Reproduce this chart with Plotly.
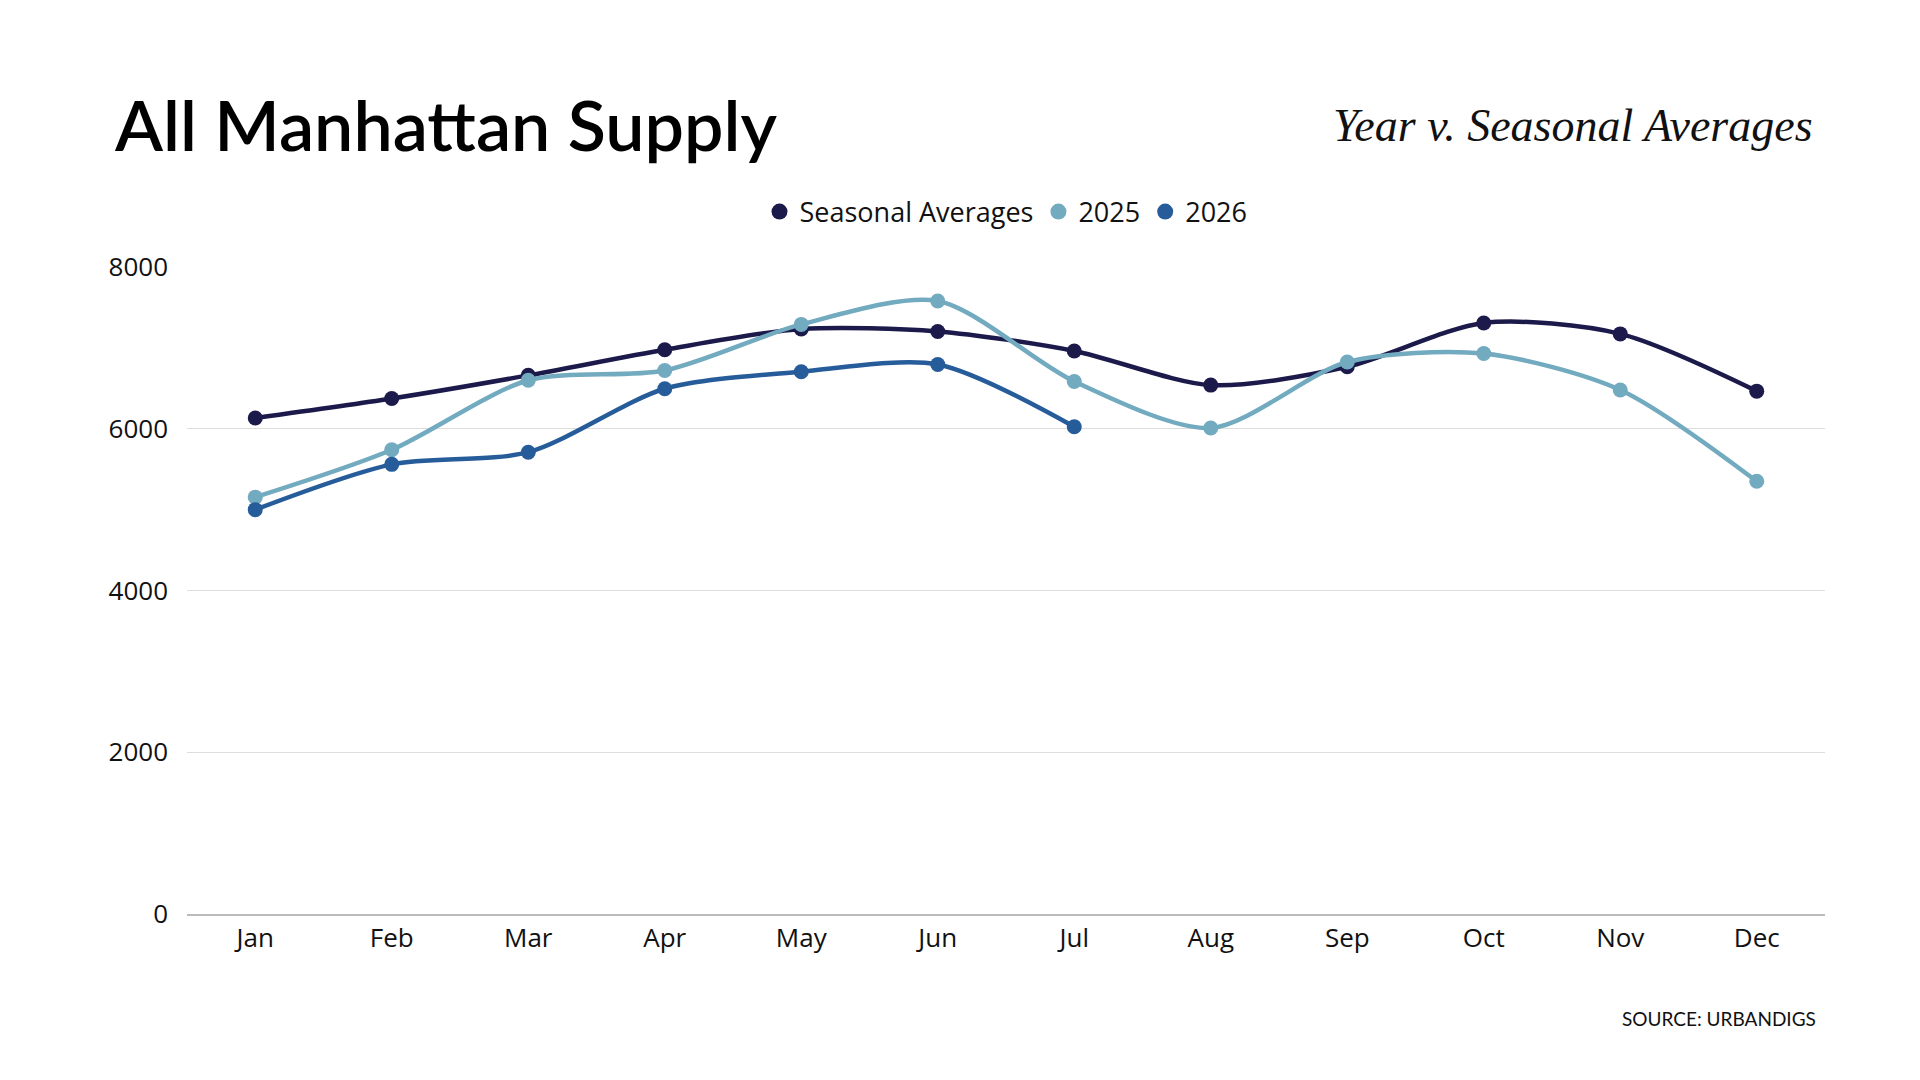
import plotly.graph_objects as go

months = ["Jan","Feb","Mar","Apr","May","Jun","Jul","Aug","Sep","Oct","Nov","Dec"]
seasonal = [6133, 6374, 6660, 6977, 7233, 7203, 6962, 6540, 6766, 7308, 7173, 6465]
y2025 = [5154, 5740, 6600, 6720, 7290, 7580, 6585, 6010, 6825, 6930, 6480, 5350]
y2026 = [5000, 5560, 5710, 6495, 6705, 6795, 6025]

series = [("Seasonal Averages", seasonal, "#1b1a4b"),
          ("2025", y2025, "#72aabf"),
          ("2026", y2026, "#265c99")]

fig = go.Figure()
for name, vals, col in series:
    fig.add_trace(go.Scatter(x=months[:len(vals)], y=vals, name=name, mode="lines+markers",
                             showlegend=False,
                             line=dict(color=col, width=4.5, shape="spline", smoothing=0.8),
                             marker=dict(color=col, size=15)))
for name, vals, col in series:
    fig.add_trace(go.Scatter(x=[None], y=[None], name=name, mode="markers",
                             marker=dict(color=col, size=28)))

fig.update_layout(
    width=1920, height=1080, paper_bgcolor="white", plot_bgcolor="white",
    margin=dict(l=179, r=103, t=259, b=174),
    font=dict(family="Open Sans, sans-serif", color="#111", size=26),
    showlegend=True,
    legend=dict(orientation="h", x=0.5, xanchor="center", y=1.085, yanchor="middle",
                font=dict(size=27), itemsizing="trace", traceorder="normal"),
    xaxis=dict(showgrid=False, showline=True, linecolor="#bbb", linewidth=1.5,
               ticks="", tickfont=dict(size=26), range=[-0.5, 11.5]),
    yaxis=dict(range=[0, 8000], tickvals=[0, 2000, 4000, 6000, 8000],
               showgrid=True, gridcolor="#ddd", gridwidth=1, zeroline=False,
               tickfont=dict(size=26), ticklabelstandoff=18),
    annotations=[
        dict(text="All Manhattan Supply", xref="paper", yref="paper", x=-0.046, y=1.221,
             xanchor="left", yanchor="middle", showarrow=False,
             font=dict(size=70, family="Lato, sans-serif", color="#000", weight=600)),
        dict(text="<i>Year v. Seasonal Averages</i>", xref="paper", yref="paper", x=0.994, y=1.218,
             xanchor="right", yanchor="middle", showarrow=False,
             font=dict(size=46, family="Liberation Serif, serif", color="#111")),
        dict(text="SOURCE: URBANDIGS", xref="paper", yref="paper", x=0.996, y=-0.161,
             xanchor="right", yanchor="middle", showarrow=False,
             font=dict(size=19, family="Lato, sans-serif", color="#111")),
    ],
)
fig.write_html("out.html")
